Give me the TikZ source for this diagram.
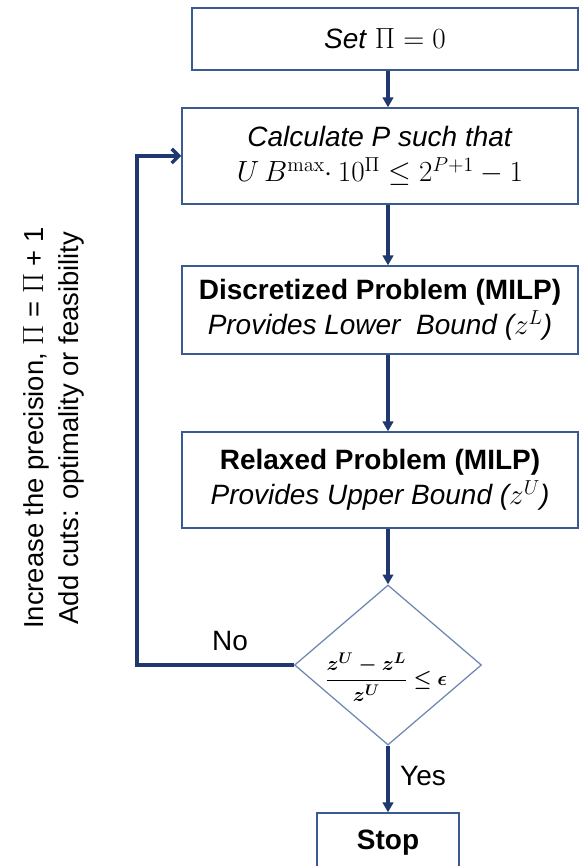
\documentclass[tikz,border=0pt]{standalone}
\usepackage[no-math]{fontspec}
\setmainfont{Liberation Sans}
\usepackage{amsmath}
\usepackage{amssymb}
\usepackage{bm}
\usetikzlibrary{positioning,arrows.meta,shapes.geometric}

\definecolor{boxblue}{HTML}{3B5A8F}
\definecolor{flowblue}{HTML}{1F3870}
\definecolor{diablue}{HTML}{6F88B3}

\newcommand{\gapratio}{$\bm{\dfrac{z^U - z^L}{z^U} \le \epsilon}$}

\begin{document}
\begin{tikzpicture}[x=0.025cm,y=-0.025cm,
    every node/.style={font=\fontsize{19.9}{24.8}\selectfont},
    block/.style={draw=boxblue, line width=1pt, align=center, inner sep=0pt},
    flow/.style={draw=flowblue, line width=2.5pt, -{Triangle[length=7pt,width=7.5pt]}},
    loopback/.style={draw=flowblue, line width=2.5pt, -{Straight Barb[length=5pt,width=10pt]}}]
\useasboundingbox (0,0) rectangle (581,866);

% Steps of the loop
\node[block, minimum width=9.65cm, minimum height=1.55cm] (setpi) at (385,39) {\textit{Set} $\Pi = 0$};
\node[block, minimum width=9.9cm, minimum height=2.4cm] (calcp) at (380,156)
    {\textit{Calculate P such that}\\ $U\,B^{\max}{\cdot}\,10^{\Pi} \le 2^{P+1} - 1$};
\node[block, minimum width=9.9cm, minimum height=2.2cm] (disc) at (380,310)
    {\textbf{Discretized Problem (MILP)}\\ \textit{Provides Lower~ Bound ($z^L$)}};
\node[block, minimum width=9.9cm, minimum height=2.4cm] (relax) at (380,480)
    {\textbf{Relaxed Problem (MILP)}\\ \textit{Provides Upper Bound ($z^U$)}};

% Convergence test
\node[diamond, draw=diablue, line width=0.9pt, inner sep=0pt,
      minimum width=4.675cm, minimum height=4cm] (test) at (388,665) {};
\node[font=\fontsize{15.5}{18}\selectfont] (testtxt) at (386,677) {\gapratio};

% End
\node[block, minimum width=3.55cm, minimum height=1.7cm] (stop) at (388,847) {};
\node (stoptxt) at (388,843) {\textbf{Stop}};

% Arrows down the column
\draw[flow] (setpi.south -| test.north) -- (calcp.north -| test.north);
\draw[flow] (calcp.south -| test.north) -- (disc.north -| test.north);
\draw[flow] (disc.south -| test.north) -- (relax.north -| test.north);
\draw[flow] (relax.south -| test.north) -- (test.north);
\draw[flow] (test.south) -- (stop.north);

% Back to the precision step
\draw[loopback] (test.west) -- ++(-157,0) |- (calcp.west);
\node (no) at (230,641) {No};
\node (yes) at (423,776) {Yes};

% Side note
\node[rotate=90, font=\fontsize{19.5}{24}\selectfont] (incr) at (36,428) {Increase the precision, $\Pi$ = $\Pi$ + 1};
\node[rotate=90, font=\fontsize{19.5}{24}\selectfont] (cuts) at (71,428) {Add cuts: optimality or feasibility};
\end{tikzpicture}
\end{document}
